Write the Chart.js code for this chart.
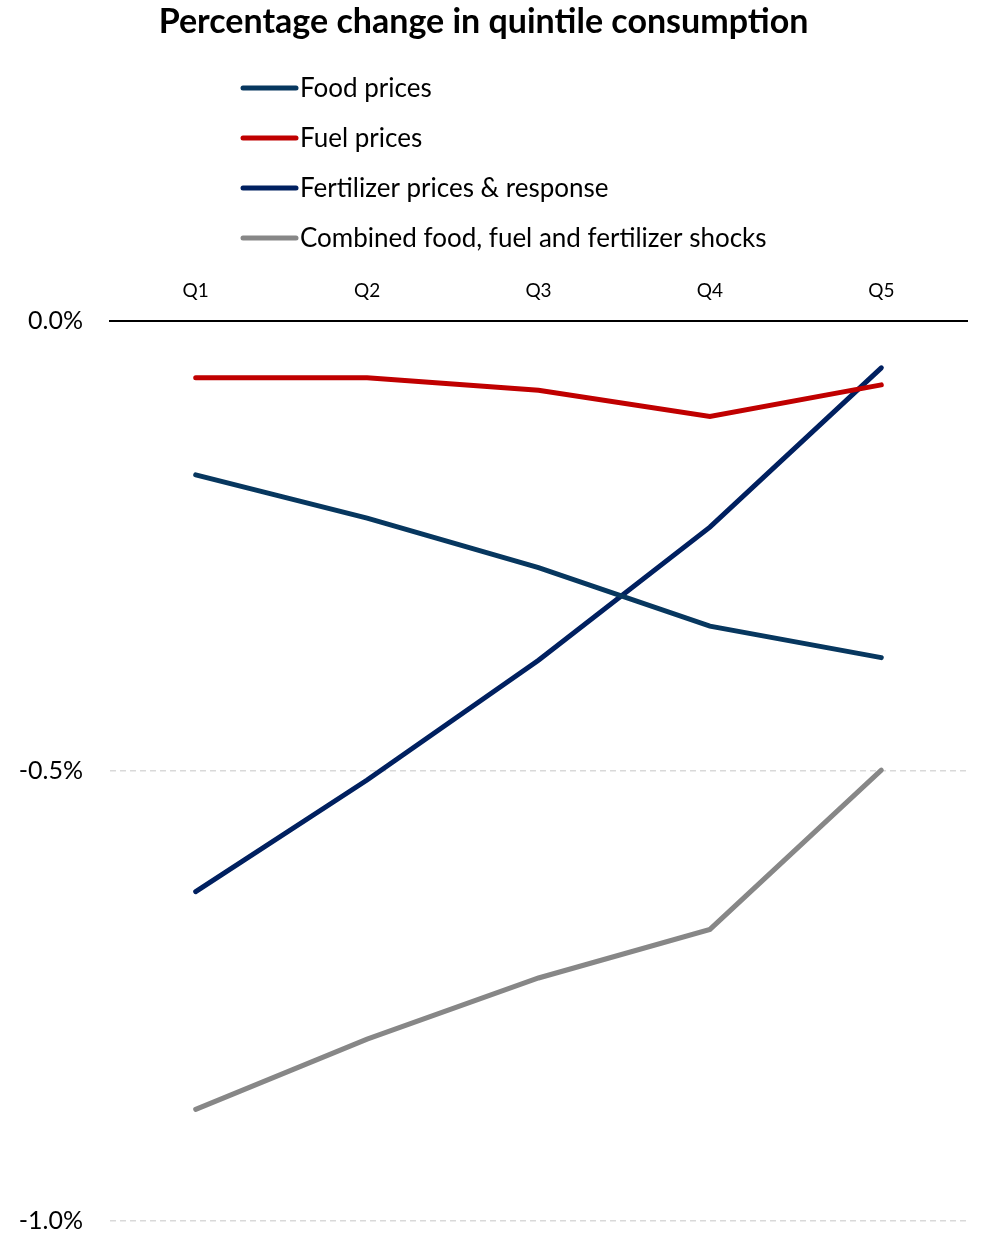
<!DOCTYPE html>
<html>
<head>
<meta charset="utf-8">
<title>Percentage change in quintile consumption</title>
<script src="https://cdn.jsdelivr.net/npm/chart.js@4/dist/chart.umd.min.js"></script>
<style>
  html, body { margin: 0; padding: 0; background: #fff; overflow: hidden; }
  canvas { display: block; }
</style>
</head>
<body>
<canvas id="myChart" width="982" height="1233"></canvas>
<script>
const quintiles = ["Q1", "Q2", "Q3", "Q4", "Q5"];

// % change in consumption by quintile
const foodPrices = [-0.171, -0.219, -0.274, -0.339, -0.374];
const fuelPrices = [-0.063, -0.063, -0.077, -0.106, -0.071];
const fertilizerPrices = [-0.634, -0.51, -0.377, -0.229, -0.052];
const combinedShocks = [-0.876, -0.798, -0.73, -0.676, -0.499];

const seriesNames = [
  "Food prices",
  "Fuel prices",
  "Fertilizer prices & response",
  "Combined food, fuel and fertilizer shocks",
];
const colors = ["#07375f", "#c00000", "#002060", "#878787"];

const fontFamily = "Lato, 'Open Sans', sans-serif";

// one legend entry per row, stacked under the title
const stackedLegend = {
  id: "stackedLegend",
  afterDraw(chart) {
    const { ctx } = chart;
    ctx.save();
    ctx.font = `26px ${fontFamily}`;
    ctx.textBaseline = "middle";
    ctx.textAlign = "left";
    chart.data.datasets.forEach((ds, i) => {
      const y = 88 + i * 50;
      ctx.strokeStyle = ds.borderColor;
      ctx.lineWidth = 5;
      ctx.lineCap = "round";
      ctx.beginPath();
      ctx.moveTo(243, y);
      ctx.lineTo(296, y);
      ctx.stroke();
      ctx.fillStyle = "#000";
      ctx.fillText(ds.label, 300, y + 1);
    });
    ctx.restore();
  },
};

const makeSet = (label, data, color) => ({
  label,
  data,
  borderColor: color,
  backgroundColor: color,
  borderWidth: 5,
  borderCapStyle: "round",
  pointRadius: 0,
  tension: 0,
});

const titleSize = 34;
const titlePad = { top: 2, bottom: 200 };

const ctx = document.getElementById("myChart");
new Chart(ctx, {
  type: "line",
  data: {
    labels: quintiles,
    datasets: [
      makeSet(seriesNames[0], foodPrices, colors[0]),
      makeSet(seriesNames[1], fuelPrices, colors[1]),
      makeSet(seriesNames[2], fertilizerPrices, colors[2]),
      makeSet(seriesNames[3], combinedShocks, colors[3]),
    ],
  },
  options: {
    responsive: false,
    animation: false,
    layout: { padding: { left: 0, right: 15, top: 0, bottom: 12 } },
    plugins: {
      legend: { display: false },
      tooltip: { enabled: false },
      title: {
        display: true,
        text: "Percentage change in quintile consumption",
        color: "#000",
        font: { family: fontFamily, size: titleSize, weight: "bold", lineHeight: 1.2 },
        padding: titlePad,
      },
    },
    scales: {
      x: {
        position: "top",
        offset: true,
        grid: { display: false, drawTicks: false },
        border: { display: true, color: "#000", width: 2 },
        ticks: {
          color: "#000",
          padding: 19,
          font: { family: fontFamily, size: 19 },
        },
        afterFit(scale) {
          scale.height = 321 - (titlePad.top + titleSize * 1.2 + titlePad.bottom);
        },
      },
      y: {
        min: -1,
        max: 0,
        grid: { color: "#d9d9d9", lineWidth: 1.5, drawTicks: false },
        border: { display: false, dash: [6, 4] },
        ticks: {
          stepSize: 0.5,
          color: "#000",
          padding: 27,
          font: { family: fontFamily, size: 25 },
          callback: (v) => v.toFixed(1) + "%",
        },
        afterFit(scale) {
          scale.width = 110;
          scale.paddingTop = 0;
          scale.paddingBottom = 0;
        },
      },
    },
  },
  plugins: [stackedLegend],
});
</script>
</body>
</html>
